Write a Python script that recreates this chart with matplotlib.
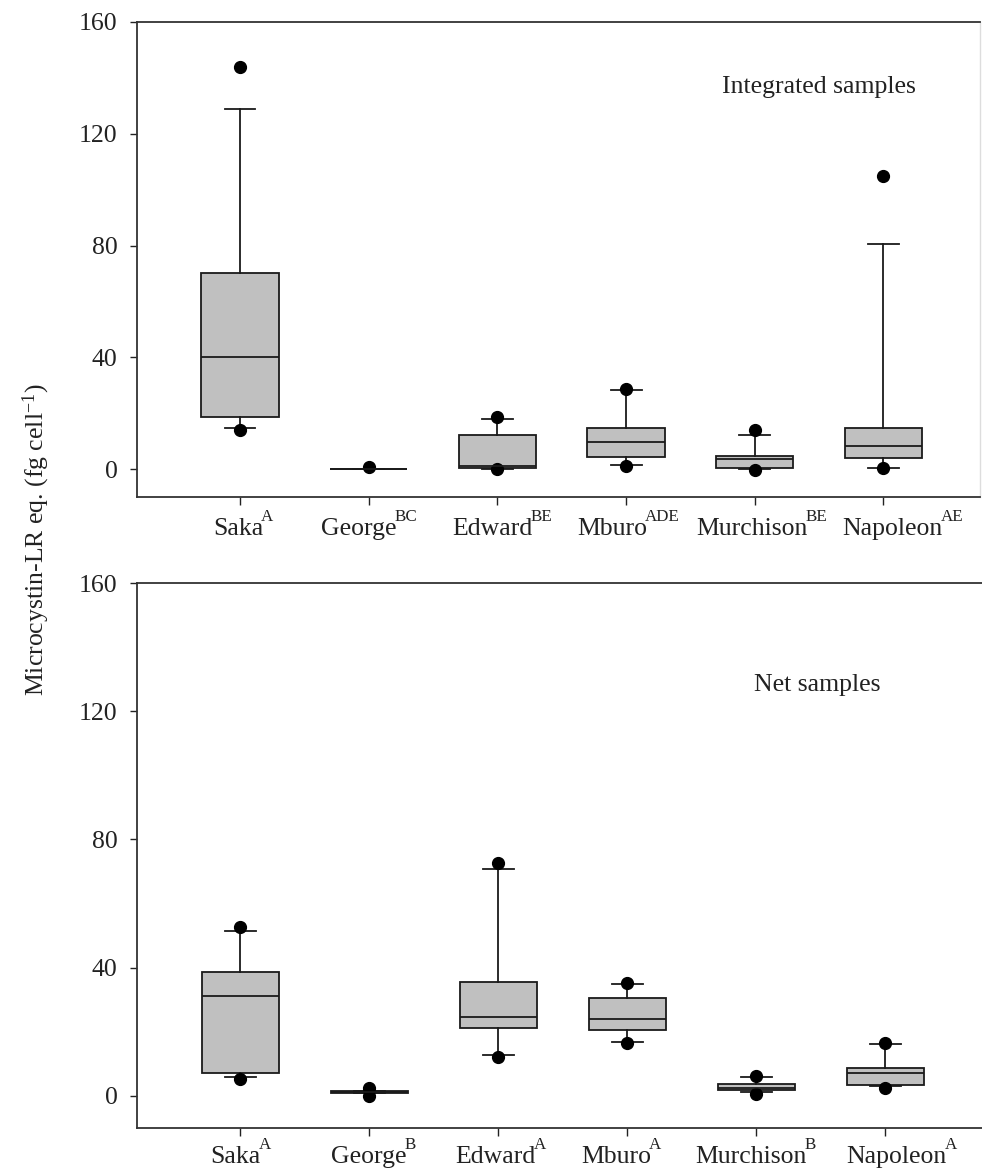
import matplotlib
matplotlib.use("Agg")
import matplotlib.pyplot as plt
from matplotlib.transforms import offset_copy

plt.rcParams['font.family'] = ['Liberation Serif', 'DejaVu Serif']
plt.rcParams['mathtext.fontset'] = 'custom'
plt.rcParams['mathtext.rm'] = 'Liberation Serif'
plt.rcParams['mathtext.it'] = 'Liberation Serif:italic'

lakes = ["Saka", "George", "Edward", "Mburo", "Murchison", "Napoleon"]
letters_int = ["A", "BC", "BE", "ADE", "BE", "AE"]
letters_net = ["A", "B", "A", "A", "B", "A"]

# Integrated samples
int_med = [40.0, 0.0, 1.0, 9.7, 3.6, 8.2]
int_q1 = [18.6, 0.0, 0.5, 4.3, 0.4, 4.0]
int_q3 = [70.0, 0.1, 12.2, 14.7, 4.7, 14.7]
int_whislo = [14.7, 0.0, 0.0, 1.4, 0.0, 0.3]
int_whishi = [129.0, 0.1, 17.9, 28.3, 12.2, 80.5]
int_fliers = [[144.0, 14.0], [0.7], [18.6, 0.0], [28.6, 1.2], [14.0, -0.3], [105.0, 0.3]]

# Net samples
net_med = [31.1, 1.2, 24.5, 23.9, 2.5, 7.1]
net_q1 = [7.1, 0.9, 21.1, 20.5, 1.9, 3.4]
net_q3 = [38.8, 1.5, 35.4, 30.4, 3.7, 8.7]
net_whislo = [5.9, 0.9, 12.7, 16.8, 1.2, 3.0]
net_whishi = [51.6, 1.5, 70.8, 34.8, 5.9, 16.2]
net_fliers = [[52.8, 5.3], [2.5, 0.0], [72.7, 12.1], [35.1, 16.5], [6.2, 0.6], [16.5, 2.5]]

yticks = [0, 40, 80, 120, 160]

# label placement nudges (pixels) as laid out in the original figure
nudge_int = [-2, -10, -5, -14, -3, 9]
nudge_net = [-5, 0, -3, -11, -5, 11]

W, H = 982, 1173
FS = 18.5
TXT = '#222222'
fig = plt.figure(figsize=(W / 100, H / 100), dpi=100)

ax1 = fig.add_axes([137 / W, 1 - 497 / H, (980 - 137) / W, (497 - 22) / H])
ax2 = fig.add_axes([137 / W, 1 - 1128 / H, (982 - 137) / W, (1128 - 583) / H])


def draw(ax, med, q1, q3, lo, hi, fl, letters, nudges, base_drop, title, tx, ty, right_spine):
    stats = []
    for i in range(len(lakes)):
        stats.append(dict(med=med[i], q1=q1[i], q3=q3[i], whislo=lo[i], whishi=hi[i], fliers=fl[i]))
    pos = list(range(1, len(lakes) + 1))
    ax.bxp(stats, positions=pos, widths=0.6, capwidths=0.24, patch_artist=True, showfliers=True,
           boxprops=dict(facecolor='#c0c0c0', edgecolor='#1a1a1a', linewidth=1.3),
           medianprops=dict(color='#1a1a1a', linewidth=1.3),
           whiskerprops=dict(color='#1a1a1a', linewidth=1.3),
           capprops=dict(color='#1a1a1a', linewidth=1.3),
           flierprops=dict(marker='o', markerfacecolor='black', markeredgecolor='black', markersize=8.5))
    ax.set_xlim(0.2, 6.75)
    ax.set_ylim(-10, 160)
    ax.set_yticks(yticks)
    ax.set_yticklabels([str(v) for v in yticks])
    ax.set_xticks(pos)
    ax.set_xticklabels([])
    ax.tick_params(axis='y', direction='out', length=5, width=1, pad=9, labelsize=FS, colors=TXT)
    ax.tick_params(axis='x', direction='out', length=6, width=1, colors=TXT)
    for s in ['left', 'bottom', 'top']:
        ax.spines[s].set_linewidth(1.3)
        ax.spines[s].set_color('#333333')
    if right_spine:
        ax.spines['right'].set_color('#dddddd')
        ax.spines['right'].set_linewidth(1.0)
    else:
        ax.spines['right'].set_visible(False)
    ax.text(tx, ty, title, transform=ax.transAxes, ha='center', va='center', fontsize=FS, color=TXT)

    # category labels with superscript letters
    base_tr = ax.get_xaxis_transform()
    for p, name, let, dx in zip(pos, lakes, letters, nudges):
        tr = offset_copy(base_tr, fig=fig, x=dx, y=-base_drop, units='dots')
        t = ax.text(p, 0, name, transform=tr, ha='center', va='baseline', fontsize=FS, color=TXT)
        fig.canvas.draw()
        bb = t.get_window_extent(fig.canvas.get_renderer())
        tr2 = offset_copy(base_tr, fig=fig, x=0, y=-base_drop + 14, units='dots')
        xr = ax.transData.inverted().transform((bb.x1 - 2, 0))[0]
        ax.text(xr, 0, let, transform=tr2, ha='left', va='baseline', fontsize=FS * 0.66, color=TXT)


draw(ax1, int_med, int_q1, int_q3, int_whislo, int_whishi, int_fliers, letters_int, nudge_int, 38,
     "Integrated samples", 0.809, 1 - (87 - 22) / 475, True)
draw(ax2, net_med, net_q1, net_q3, net_whislo, net_whishi, net_fliers, letters_net, nudge_net, 35,
     "Net samples", 0.805, 1 - (685 - 583) / 545, False)

fig.text(36 / W, 1 - 540 / H, "Microcystin-LR eq. (fg cell$^{-1}$)", rotation=90,
         ha='center', va='center', fontsize=FS, color=TXT)

fig.savefig("out.png", dpi=100)
